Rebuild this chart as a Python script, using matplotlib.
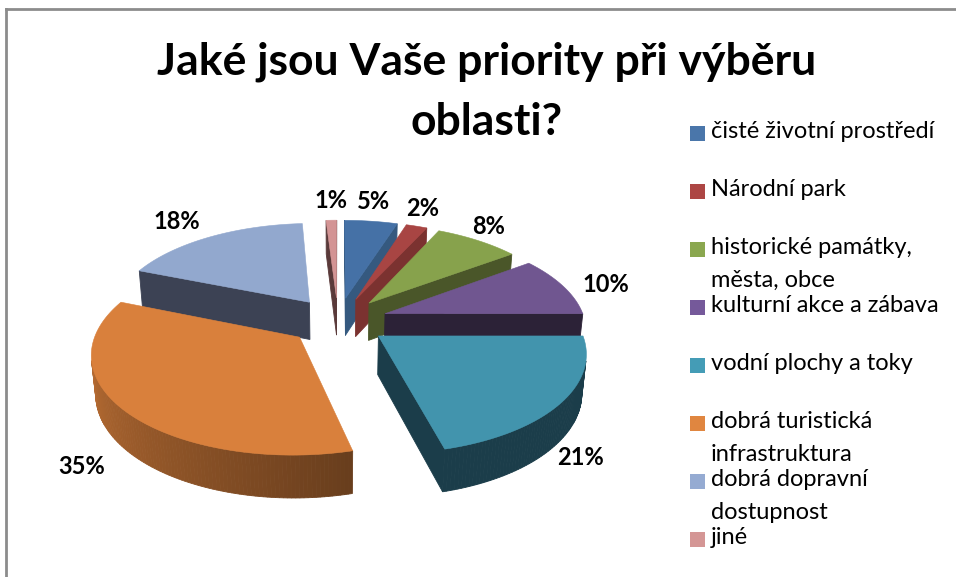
import numpy as np
import matplotlib.pyplot as plt
from matplotlib.patches import Polygon, Rectangle
from matplotlib.lines import Line2D

# data
categories = ["čisté životní prostředí", "Národní park", "historické památky,\nměsta, obce",
              "kulturní akce a zábava", "vodní plochy a toky", "dobrá turistická\ninfrastruktura",
              "dobrá dopravní\ndostupnost", "jiné"]
shares = [5, 2, 8, 10, 21, 35, 18, 1]
pct_labels = ["5%", "2%", "8%", "10%", "21%", "35%", "18%", "1%"]
title_lines = ["Jaké jsou Vaše priority při výběru", "oblasti?"]

top_colors = ["#4571a6", "#a84543", "#87a24c", "#705690", "#4294ad", "#d9803c", "#92a8ce", "#d39494"]
side_colors = ["#35597f", "#7b3230", "#4a5629", "#2c2237", "#1b3d4a", "#6b3e1a", "#3c4254", "#5a3a3a"]
legend_colors = ["#4a76aa", "#ad4644", "#8aa74f", "#75599a", "#449cb6", "#e08640", "#95abd2", "#d49695"]

plt.rcParams['font.family'] = ['Lato', 'DejaVu Sans']

W, H_PX = 956, 577
fig = plt.figure(figsize=(W / 100, H_PX / 100), dpi=100)
ax = fig.add_axes([0, 0, 1, 1])
ax.set_xlim(0, W)
ax.set_ylim(0, H_PX)
ax.axis('off')

# 3d pie geometry (pixel units)
cx, cy = 338, H_PX - 321
R = 200
EXPLODE = 50
DEPTH = 44
ALPHA = np.radians(28.5)
DIST = 1200.0
cam = np.array([0.0, -DIST * np.cos(ALPHA), DIST * np.sin(ALPHA)])


def project(u, v, z):
    d = v * np.cos(ALPHA) - z * np.sin(ALPHA)
    p = DIST / (DIST + d)
    return cx + p * u, cy + p * (v * np.sin(ALPHA) + z * np.cos(ALPHA))


def mix(c, f):
    rgb = np.array(plt.matplotlib.colors.to_rgb(c))
    return tuple(np.clip(rgb * f, 0, 1))


fracs = np.array(shares, dtype=float) / sum(shares)
bounds = np.concatenate([[0], np.cumsum(fracs)]) * 2 * np.pi
mids = (bounds[:-1] + bounds[1:]) / 2

# draw back to front
order = np.argsort([-np.cos(m) for m in mids])
for i in order:
    a, b, m = bounds[i], bounds[i + 1], mids[i]
    ou, ov = EXPLODE * np.sin(m), EXPLODE * np.cos(m)
    th = np.linspace(a, b, max(4, int(np.degrees(b - a)) + 2))
    uu = ou + R * np.sin(th)
    vv = ov + R * np.cos(th)

    faces = []
    # radial faces
    for ang, sgn in ((a, -1), (b, 1)):
        n = np.array([sgn * np.cos(ang), -sgn * np.sin(ang), 0])
        eu, ev = ou + R * np.sin(ang), ov + R * np.cos(ang)
        pmid = np.array([(ou + eu) / 2, (ov + ev) / 2, -DEPTH / 2])
        if np.dot(cam - pmid, n) > 0:
            pts = [project(ou, ov, 0), project(eu, ev, 0), project(eu, ev, -DEPTH), project(ou, ov, -DEPTH)]
            faces.append((pts, side_colors[i]))
    # outer wall, in small strips
    top = top_colors[i]
    for k in range(len(th) - 1):
        tm = (th[k] + th[k + 1]) / 2
        n = np.array([np.sin(tm), np.cos(tm), 0])
        pmid = np.array([ou + R * np.sin(tm), ov + R * np.cos(tm), -DEPTH / 2])
        if np.dot(cam - pmid, n) <= 0:
            continue
        deg = np.degrees(tm)
        f = 0.42 + 0.46 * np.clip((deg - 150) / 120, 0, 1)
        col = mix(top, f) if i == 5 else side_colors[i]
        pts = [project(uu[k], vv[k], 0), project(uu[k + 1], vv[k + 1], 0),
               project(uu[k + 1], vv[k + 1], -DEPTH), project(uu[k], vv[k], -DEPTH)]
        faces.append((pts, col))
    for pts, col in faces:
        ax.add_patch(Polygon(pts, closed=True, facecolor=col, edgecolor=col, lw=0.6))
    top_pts = [project(ou, ov, 0)] + [project(x, y, 0) for x, y in zip(uu, vv)]
    ax.add_patch(Polygon(top_pts, closed=True, facecolor=top, edgecolor=top, lw=0.4))

# percentage labels, outside end
for i, m in enumerate(mids):
    ou, ov = EXPLODE * np.sin(m), EXPLODE * np.cos(m)
    r_lab = 1.12 * R
    z = -DEPTH * (1 - np.cos(m)) / 2
    x, y = project(ou + r_lab * np.sin(m), ov + r_lab * np.cos(m), z)
    s = np.sin(m)
    ha = 'left' if s > 0.85 else ('right' if s < -0.55 else 'center')
    va = 'bottom' if np.cos(m) > 0 else 'top'
    ax.text(x, y, pct_labels[i], fontsize=17, fontweight='bold', ha=ha, va=va, color='black')

# title
ax.text(487, H_PX - 62, title_lines[0], fontsize=32, fontweight='bold', ha='center', va='center')
ax.text(487, H_PX - 122, title_lines[1], fontsize=32, fontweight='bold', ha='center', va='center')

# legend
ly0 = H_PX - 134
for i, (lab, col) in enumerate(zip(categories, legend_colors)):
    y = ly0 - 58 * i
    ax.add_patch(Rectangle((690, y - 7), 15, 15, facecolor=col, edgecolor='none'))
    ax.text(711, y + 13, lab, fontsize=17, ha='left', va='top', linespacing=1.7)

# chart border
fig.add_artist(Line2D([6 / W, 1], [1 - 8.5 / H_PX, 1 - 8.5 / H_PX], color='#8c8c8c', lw=2))
fig.add_artist(Line2D([6 / W, 6 / W], [0, 1 - 8.5 / H_PX], color='#8c8c8c', lw=2))

fig.savefig('out.png', dpi=100)
